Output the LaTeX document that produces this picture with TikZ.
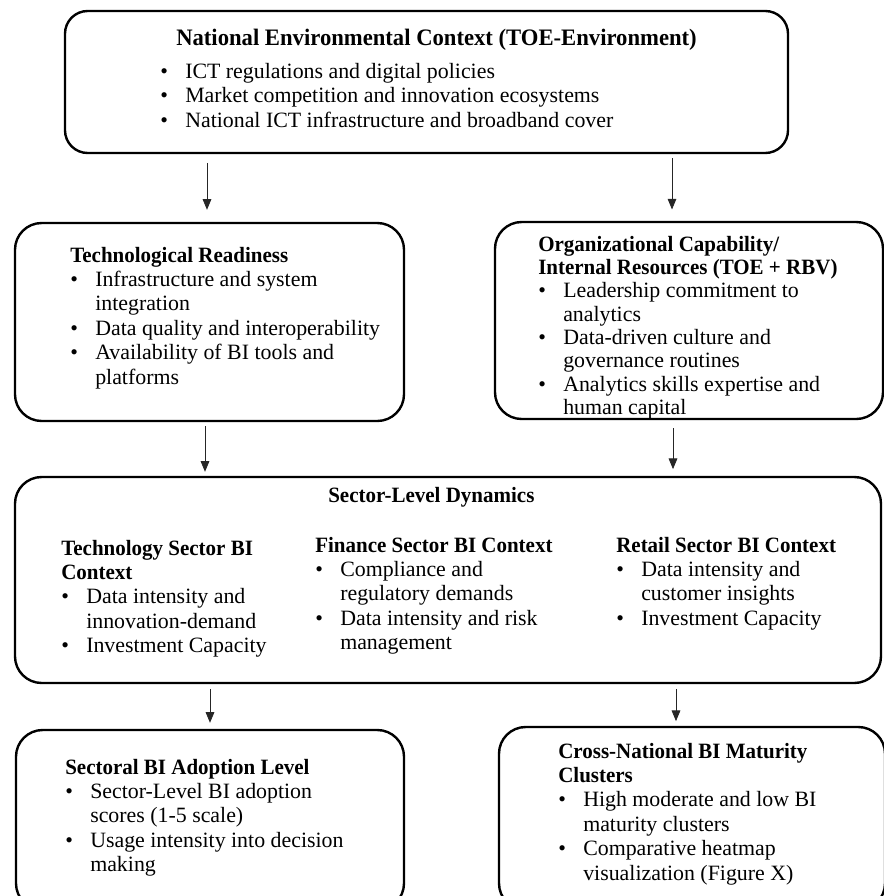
\documentclass[tikz,border=0pt]{standalone}
\usepackage{fontspec}
\setmainfont{Liberation Serif}[BoldFeatures={FakeStretch=0.96}]
\usetikzlibrary{arrows.meta}
\tikzset{
  >={Triangle[length=8pt,width=6.5pt]},
  box/.style={draw=black,line width=1.8pt,rounded corners=20pt,fill=white,inner sep=0pt},
  flow/.style={->,line width=.6pt,color=black!85},
  txt/.style={anchor=base west,inner sep=0pt,font=\fontsize{16.4}{18.3}\selectfont},
}
\newcommand{\bul}{\makebox[18.75pt][l]{\textbullet}}
\newcommand{\ind}{\hspace*{18.75pt}}

\begin{document}
\begin{tikzpicture}[x=0.75pt,y=-0.75pt]
  \useasboundingbox (0,0) rectangle (884,896);

  % boxes
  \node[box,rounded corners=17pt,minimum width=542.25pt,minimum height=106.5pt] (env) at (426.5,82) {};
  \node[box,minimum width=291.75pt,minimum height=148.5pt] (tech) at (209.5,322) {};
  \node[box,minimum width=291pt,minimum height=147.75pt] (org) at (689,320.5) {};
  \node[box,minimum width=649.5pt,minimum height=154.5pt] (sector) at (448,580) {};
  \node[box,minimum width=291pt,minimum height=135pt] (adopt) at (210,820) {};
  \node[box,minimum width=289.5pt,minimum height=137.25pt] (clus) at (692,818.5) {};

  % texts
  \node[txt,font=\fontsize{17.7}{18.3}\selectfont] (envtitle) at (176,45) {\textbf{National Environmental Context (TOE-Environment)}};
  \node[txt,font=\fontsize{16.4}{18.4}\selectfont] (envlist) at (160,78) {\begin{tabular}[t]{@{}l@{}}
    \bul ICT regulations and digital policies\\
    \bul Market competition and innovation ecosystems\\
    \bul National ICT infrastructure and broadband cover
  \end{tabular}};
  \node[txt] (techtxt) at (70,262) {\begin{tabular}[t]{@{}l@{}}
    \textbf{Technological Readiness}\\
    \bul Infrastructure and system\\
    \ind integration\\
    \bul Data quality and interoperability\\
    \bul Availability of BI tools and\\
    \ind platforms
  \end{tabular}};
  \node[txt,font=\fontsize{16.4}{17.5}\selectfont] (orgtxt) at (538,251) {\begin{tabular}[t]{@{}l@{}}
    \textbf{Organizational Capability/}\\
    \textbf{Internal Resources (TOE + RBV)}\\
    \bul Leadership commitment to\\
    \ind analytics\\
    \bul Data-driven culture and\\
    \ind governance routines\\
    \bul Analytics skills expertise and\\
    \ind human capital
  \end{tabular}};
  \node[txt] (sectortitle) at (328,502) {\textbf{Sector-Level Dynamics}};
  \node[txt] (techsec) at (61,555) {\begin{tabular}[t]{@{}l@{}}
    \textbf{Technology Sector BI}\\
    \textbf{Context}\\
    \bul Data intensity and\\
    \ind innovation-demand\\
    \bul Investment Capacity
  \end{tabular}};
  \node[txt] (finsec) at (315,552) {\begin{tabular}[t]{@{}l@{}}
    \textbf{Finance Sector BI Context}\\
    \bul Compliance and\\
    \ind regulatory demands\\
    \bul Data intensity and risk\\
    \ind management
  \end{tabular}};
  \node[txt] (retsec) at (616,552) {\begin{tabular}[t]{@{}l@{}}
    \textbf{Retail Sector BI Context}\\
    \bul Data intensity and\\
    \ind customer insights\\
    \bul Investment Capacity
  \end{tabular}};
  \node[txt] (adopttxt) at (65,774) {\begin{tabular}[t]{@{}l@{}}
    \textbf{Sectoral BI Adoption Level}\\
    \bul Sector-Level BI adoption\\
    \ind scores (1-5 scale)\\
    \bul Usage intensity into decision\\
    \ind making
  \end{tabular}};
  \node[txt] (clustxt) at (558,758) {\begin{tabular}[t]{@{}l@{}}
    \textbf{Cross-National BI Maturity}\\
    \textbf{Clusters}\\
    \bul High moderate and low BI\\
    \ind maturity clusters\\
    \bul Comparative heatmap\\
    \ind visualization (Figure X)
  \end{tabular}};

  % arrow columns
  \coordinate (c1) at (207,0);
  \coordinate (c2) at (672,0);
  \coordinate (c3) at (205,0);
  \coordinate (c4) at (673,0);
  \coordinate (c5) at (210,0);
  \coordinate (c6) at (676,0);

  \draw[flow,shorten <=6.5pt,shorten >=9pt] (env.south -| c1) -- (tech.north -| c1);
  \draw[flow,shorten <=3pt,shorten >=8.5pt] (env.south -| c2) -- (org.north -| c2);
  \draw[flow,shorten <=3pt,shorten >=3pt] (tech.south -| c3) -- (sector.north -| c3);
  \draw[flow,shorten <=6pt,shorten >=5pt] (org.south -| c4) -- (sector.north -| c4);
  \draw[flow,shorten <=3.5pt,shorten >=4.5pt] (sector.south -| c5) -- (adopt.north -| c5);
  \draw[flow,shorten <=3.5pt,shorten >=3.5pt] (sector.south -| c6) -- (clus.north -| c6);
\end{tikzpicture}
\end{document}
